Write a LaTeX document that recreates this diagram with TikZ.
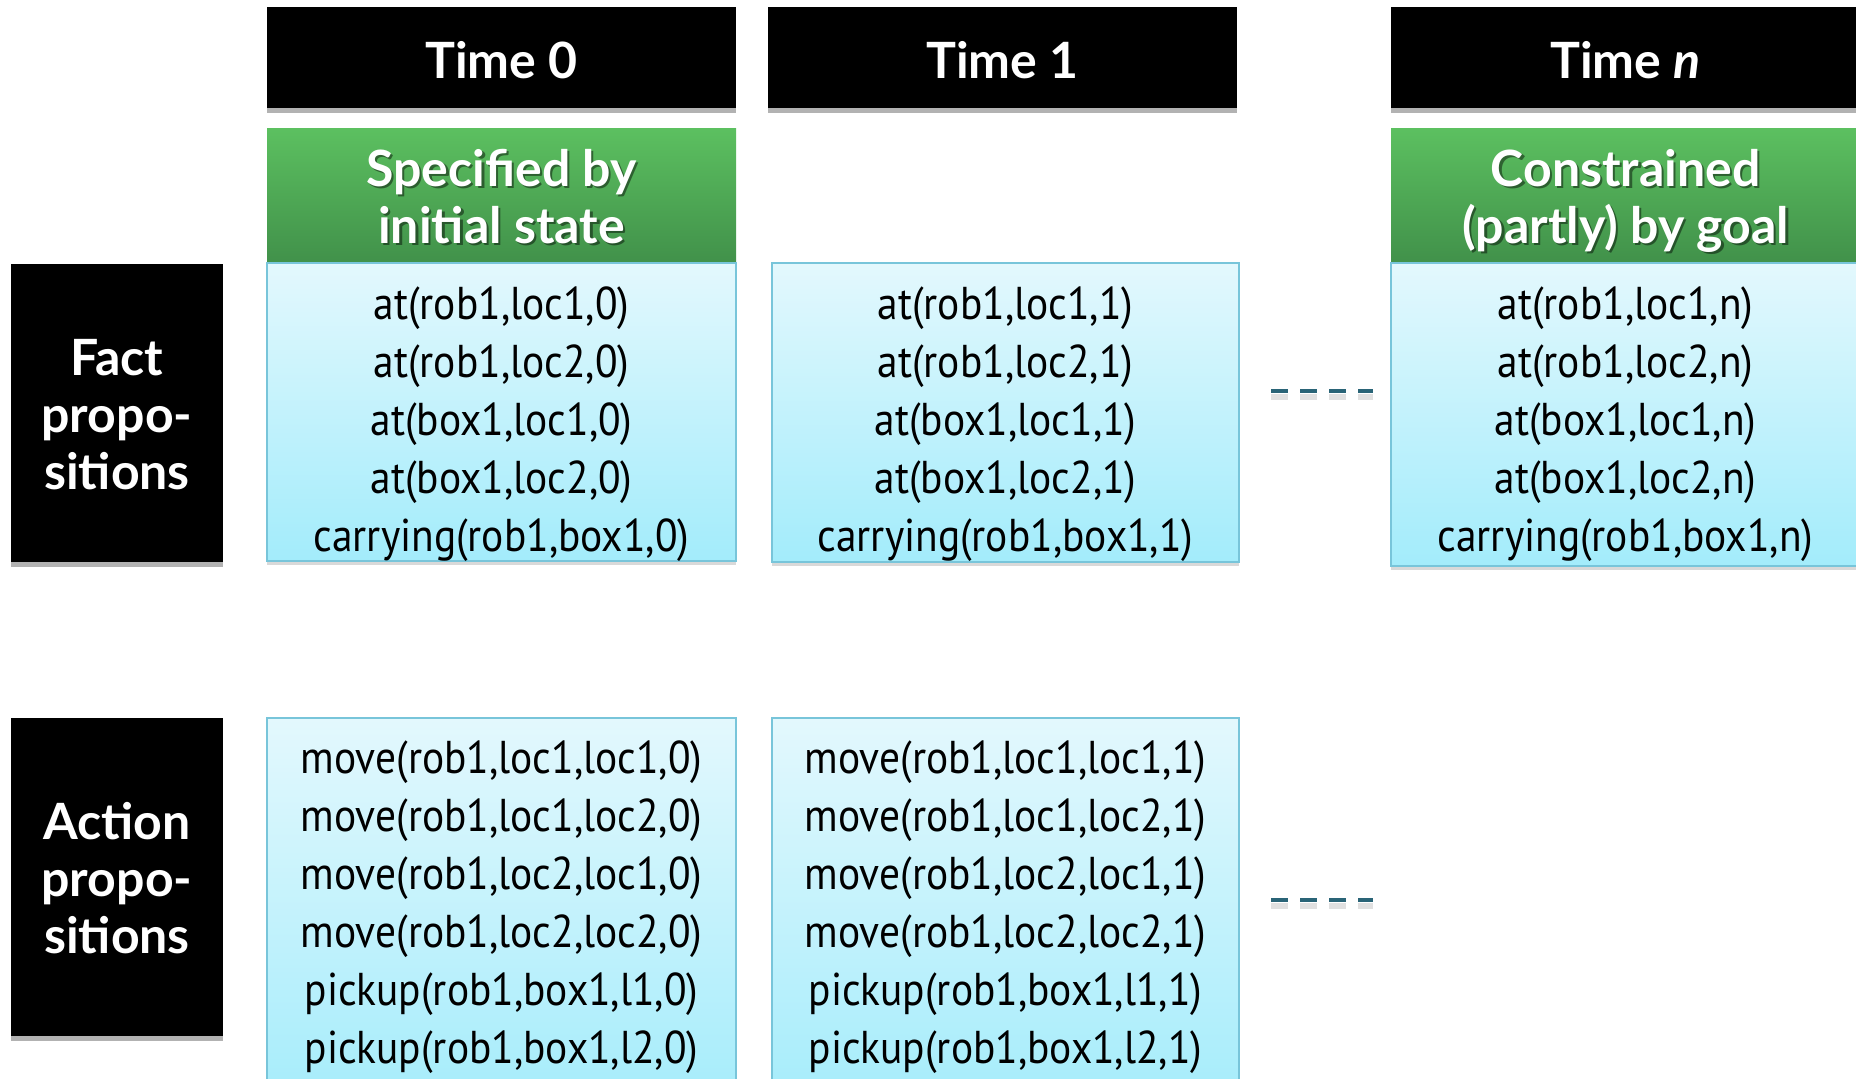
\documentclass[tikz,border=0pt]{standalone}
\usepackage{fontspec}
\setmainfont{Lato}
\newfontfamily\contentfont{PT Sans}[FakeStretch=0.9]
\newfontfamily\headfont{Lato}[UprightFont=* Bold, ItalicFont=* Bold Italic]
\usetikzlibrary{shadows}
\definecolor{cyantop}{HTML}{E3F8FD}
\definecolor{cyanbot}{HTML}{A3ECFB}
\definecolor{cyanline}{HTML}{78C5DA}
\definecolor{greentop}{HTML}{5CC060}
\definecolor{greenbot}{HTML}{41914A}
\definecolor{dashcol}{HTML}{2A6477}
\tikzset{
  blackbox/.style={draw=none, fill=black, inner sep=0pt, minimum width=234.5pt, minimum height=50.5pt,
    drop shadow={shadow xshift=0pt, shadow yshift=-2.5pt, opacity=0.3, fill=black}},
  labelbox/.style={draw=none, fill=black, inner sep=0pt, minimum width=106pt,
    drop shadow={shadow xshift=0pt, shadow yshift=-2.5pt, opacity=0.3, fill=black}},
  greenbox/.style={draw=none, top color=greentop, bottom color=greenbot, inner sep=0pt,
    minimum width=234.5pt, minimum height=67.5pt},
  cyanbox/.style={draw=cyanline, line width=0.6pt, top color=cyantop, bottom color=cyanbot,
    inner sep=0pt, minimum width=234.5pt,
    drop shadow={shadow xshift=0pt, shadow yshift=-2pt, opacity=0.15, fill=black}},
  headtext/.style={text=white, font=\headfont\fontsize{25}{28.5}\selectfont, align=center, inner sep=0pt},
  shadowtext/.style={text=black, opacity=0.45, font=\headfont\fontsize{25}{28.5}\selectfont, align=center, inner sep=0pt},
  bodytext/.style={text=black, font=\contentfont\fontsize{23}{29}\selectfont, align=center, inner sep=0pt},
  dashline/.style={draw=dashcol, line width=2pt, dash pattern=on 8.5pt off 6pt},
  dashshadow/.style={draw=black, opacity=0.12, line width=3pt, dash pattern=on 8.5pt off 6pt}
}
\begin{document}
\begin{tikzpicture}[x=0.5pt,y=-0.5pt]
\useasboundingbox (0,0) rectangle (1856,1078);
\clip (0,0) rectangle (1856,1078);
% time headers
\node[blackbox] (t0) at (501.5,57.5) {};
\node[headtext] (t0t) at (501.5,60) {Time 0};
\node[blackbox] (t1) at (1002.5,57.5) {};
\node[headtext] (t1t) at (1002.5,60) {Time 1};
\node[blackbox] (tn) at (1625.5,57.5) {};
\node[headtext] (tnt) at (1625.5,60) {Time \textit{n}};
% green headers
\node[greenbox] (g0) at (501.5,195.5) {};
\node[shadowtext] (g0s) at ([xshift=1.2pt,yshift=-1.2pt]501.5,196.5) {Specified by\\initial state};
\node[headtext] (g0t) at (501.5,196.5) {Specified by\\initial state};
\node[greenbox] (gn) at (1625.5,195.5) {};
\node[shadowtext] (gns) at ([xshift=1.2pt,yshift=-1.2pt]1625.5,200.5) {Constrained\\(partly) by goal};
\node[headtext] (gnt) at (1625.5,200.5) {Constrained\\(partly) by goal};
% row labels
\node[labelbox, minimum height=149pt] (fl) at (117,413) {};
\node[headtext] (flt) at (117,414.5) {Fact\\propo-\\sitions};
\node[labelbox, minimum height=159pt] (al) at (117,877) {};
\node[headtext] (alt) at (117,878.5) {Action\\propo-\\sitions};
% fact boxes
\node[cyanbox, minimum height=149pt] (f0) at (501.5,412) {};
\node[bodytext] (f0t) at (501.5,424) {at(rob1,loc1,0)\\at(rob1,loc2,0)\\at(box1,loc1,0)\\at(box1,loc2,0)\\carrying(rob1,box1,0)};
\node[cyanbox, minimum height=149.5pt, minimum width=233.5pt] (f1) at (1005.5,412.5) {};
\node[bodytext] (f1t) at (1005.5,424) {at(rob1,loc1,1)\\at(rob1,loc2,1)\\at(box1,loc1,1)\\at(box1,loc2,1)\\carrying(rob1,box1,1)};
\node[cyanbox, minimum height=151.5pt] (fn) at (1625.5,414.5) {};
\node[bodytext] (fnt) at (1625.5,424) {at(rob1,loc1,n)\\at(rob1,loc2,n)\\at(box1,loc1,n)\\at(box1,loc2,n)\\carrying(rob1,box1,n)};
% action boxes
\node[cyanbox, minimum height=200pt] (a0) at (501.5,918) {};
\node[bodytext] (a0t) at (501.5,907.5) {move(rob1,loc1,loc1,0)\\move(rob1,loc1,loc2,0)\\move(rob1,loc2,loc1,0)\\move(rob1,loc2,loc2,0)\\pickup(rob1,box1,l1,0)\\pickup(rob1,box1,l2,0)};
\node[cyanbox, minimum height=200pt, minimum width=233.5pt] (a1) at (1005.5,918) {};
\node[bodytext] (a1t) at (1005.5,907.5) {move(rob1,loc1,loc1,1)\\move(rob1,loc1,loc2,1)\\move(rob1,loc2,loc1,1)\\move(rob1,loc2,loc2,1)\\pickup(rob1,box1,l1,1)\\pickup(rob1,box1,l2,1)};
% dashes
\coordinate (d1a) at (1271,391);
\coordinate (d1b) at (1373,391);
\coordinate (d2a) at (1271,900);
\coordinate (d2b) at (1373,900);
\draw[dashshadow] ([yshift=-3pt]d1a) -- ([yshift=-3pt]d1b);
\draw[dashshadow] ([yshift=-3pt]d2a) -- ([yshift=-3pt]d2b);
\draw[dashline] (d1a) -- (d1b);
\draw[dashline] (d2a) -- (d2b);
\end{tikzpicture}
\end{document}
